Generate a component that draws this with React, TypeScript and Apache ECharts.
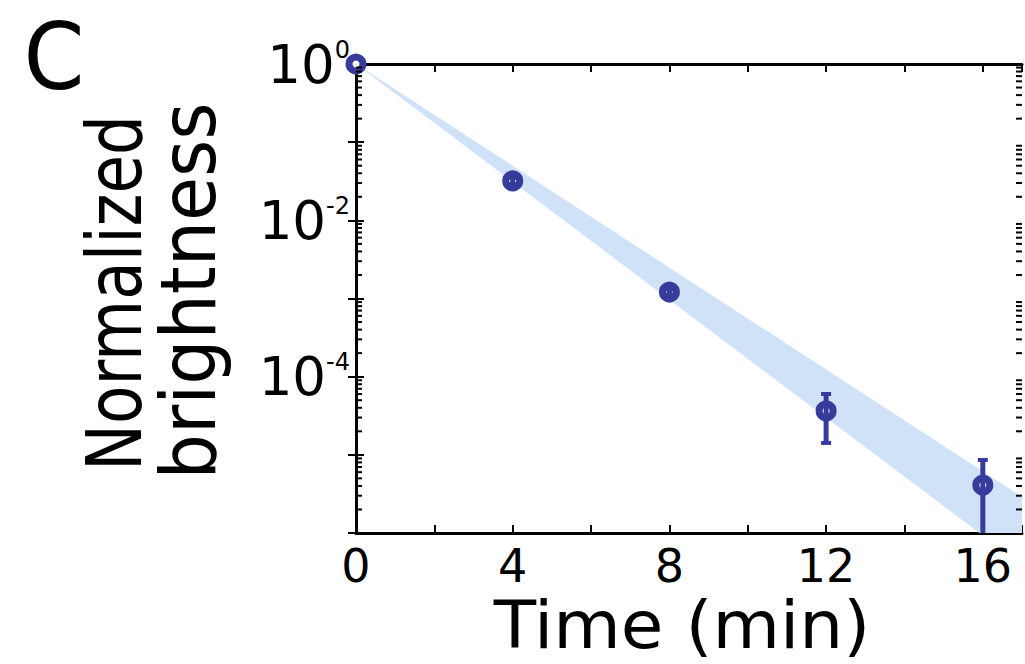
import React, { useEffect, useRef } from 'react';
import * as echarts from 'echarts';

// ---- data ----
const times = [0, 4, 8, 12, 16];
const brightness = [1, 0.0319, 0.00121, 3.65e-5, 4.1e-6];
const errLower = [1, 0.029, 0.00112, 1.42e-5, 5e-7];
const errUpper = [1, 0.035, 0.0013, 6.0e-5, 8.6e-6];

// shaded confidence band (straight in log space)
const bandTimes = [0, 17];
const bandUpper = [1, 2.9e-6];
const bandLower = [1, 3.9e-7];

// tick labels
const xTickLabels = ['0', '4', '8', '12', '16'];
const yTickExponents = [0, -2, -4];

// log minor ticks (2..9 x 10^e)
const minorTickValues: number[] = [];
for (let e = -6; e < 0; e++) {
  for (let k = 2; k <= 9; k++) {
    minorTickValues.push(Number((k * Math.pow(10, e)).toPrecision(3)));
  }
}

const BLUE = '#363b9c';
const BAND = '#cfe2f7';
const FONT = 'DejaVu Sans';

export default function App() {
  const ref = useRef<HTMLDivElement>(null);

  useEffect(() => {
    if (!ref.current) return;
    const chart = echarts.init(ref.current, undefined, { renderer: 'svg' });

    const axisLine = { show: true, lineStyle: { color: '#000', width: 3 } };
    const axisTick = { show: true, inside: true, length: 8, lineStyle: { color: '#000', width: 2 } };

    const xBase = {
      type: 'value' as const,
      min: 0,
      max: 17,
      interval: 2,
      axisLine,
      axisTick,
      splitLine: { show: false },
    };
    const yBase = {
      type: 'log' as const,
      logBase: 10,
      min: 1e-6,
      max: 1,
      interval: 1,
      axisLine,
      axisTick,
      splitLine: { show: false },
      minorTick: { show: false },
    };

    const option: any = {
      animation: false,
      backgroundColor: '#fff',
      grid: { left: 356, top: 64, width: 666, height: 469, containLabel: false },
      xAxis: [
        {
          ...xBase,
          position: 'bottom',
          axisLabel: {
            margin: 13,
            fontSize: 46,
            lineHeight: 40,
            fontFamily: FONT,
            color: '#000',
            formatter: (v: number) => (xTickLabels.includes(String(v)) ? String(v) : ''),
          },
        },
        { ...xBase, position: 'top', axisLabel: { show: false } },
      ],
      yAxis: [
        {
          ...yBase,
          position: 'left',
          axisLabel: {
            margin: 6,
            color: '#000',
            formatter: (v: number) => {
              const e = Math.round(Math.log10(v));
              return yTickExponents.includes(e) ? `{b|10}{s|${e}}` : '';
            },
            rich: {
              b: { fontSize: 53, fontFamily: FONT, color: '#000', lineHeight: 53 },
              s: { fontSize: 24, fontFamily: FONT, color: '#000', lineHeight: 40, verticalAlign: 'top' },
            },
          },
        },
        { ...yBase, position: 'right', axisLabel: { show: false } },
      ],
      graphic: [
        {
          type: 'text',
          x: 54,
          y: 57,
          scaleX: 0.95,
          style: { text: 'C', fontSize: 92, fontFamily: FONT, fill: '#000', align: 'center', verticalAlign: 'middle' },
        },
        {
          type: 'text',
          x: 114,
          y: 293,
          rotation: Math.PI / 2,
          scaleX: 0.826,
          style: { text: 'Normalized', fontSize: 76, fontFamily: FONT, fill: '#000', align: 'center', verticalAlign: 'middle' },
        },
        {
          type: 'text',
          x: 189,
          y: 291,
          rotation: Math.PI / 2,
          scaleX: 0.94,
          style: { text: 'brightness', fontSize: 76, fontFamily: FONT, fill: '#000', align: 'center', verticalAlign: 'middle' },
        },
        {
          type: 'text',
          x: 682,
          y: 625,
          scaleX: 1.05,
          style: { text: 'Time (min)', fontSize: 66, lineHeight: 56, fontFamily: FONT, fill: '#000', align: 'center', verticalAlign: 'middle' },
        },
      ],
      series: [
        {
          name: 'band',
          type: 'custom',
          xAxisIndex: 0,
          yAxisIndex: 0,
          clip: true,
          z: 1,
          silent: true,
          data: [[0, 1]],
          renderItem: (params: any, api: any) => {
            const pts: number[][] = [];
            for (let i = 0; i < bandTimes.length; i++) pts.push(api.coord([bandTimes[i], bandUpper[i]]));
            for (let i = bandTimes.length - 1; i >= 0; i--) pts.push(api.coord([bandTimes[i], bandLower[i]]));
            return { type: 'polygon', shape: { points: pts }, style: { fill: BAND, stroke: 'none' } };
          },
        },
        {
          name: 'minorTicks',
          type: 'custom',
          xAxisIndex: 0,
          yAxisIndex: 0,
          z: 5,
          silent: true,
          data: minorTickValues.map((v) => [0, v]),
          renderItem: (params: any, api: any) => {
            const cs = params.coordSys;
            const y = api.coord([0, api.value(1)])[1];
            const st = { stroke: '#000', lineWidth: 2 };
            return {
              type: 'group',
              children: [
                { type: 'line', shape: { x1: cs.x, y1: y, x2: cs.x + 6, y2: y }, style: st },
                { type: 'line', shape: { x1: cs.x + cs.width - 6, y1: y, x2: cs.x + cs.width, y2: y }, style: st },
              ],
            };
          },
        },
        {
          name: 'brightness',
          type: 'scatter',
          xAxisIndex: 0,
          yAxisIndex: 0,
          z: 3,
          symbol: 'circle',
          symbolSize: 14,
          itemStyle: { color: '#ffffff', borderColor: BLUE, borderWidth: 7, opacity: 1 },
          data: times.map((t, i) => [t, brightness[i]]),
        },
        {
          name: 'errorBars',
          type: 'custom',
          xAxisIndex: 0,
          yAxisIndex: 0,
          clip: true,
          z: 4,
          silent: true,
          data: times.map((t, i) => [t, errLower[i], errUpper[i]]),
          renderItem: (params: any, api: any) => {
            const lo = api.value(1);
            const hi = api.value(2);
            if (lo === hi) return null;
            const t = api.value(0);
            const p1 = api.coord([t, lo]);
            const p2 = api.coord([t, hi]);
            const st = { stroke: BLUE, lineWidth: 5 };
            const cap = { stroke: BLUE, lineWidth: 4 };
            return {
              type: 'group',
              children: [
                { type: 'line', shape: { x1: p1[0], y1: p1[1], x2: p2[0], y2: p2[1] }, style: st },
                { type: 'line', shape: { x1: p1[0] - 5, y1: p1[1], x2: p1[0] + 5, y2: p1[1] }, style: cap },
                { type: 'line', shape: { x1: p2[0] - 5, y1: p2[1], x2: p2[0] + 5, y2: p2[1] }, style: cap },
              ],
            };
          },
        },
      ],
    };

    chart.setOption(option);
    return () => chart.dispose();
  }, []);

  return (
    <div
      ref={ref}
      style={{ position: 'fixed', left: 0, top: 0, width: 1025, height: 664, background: '#fff' }}
    />
  );
}
